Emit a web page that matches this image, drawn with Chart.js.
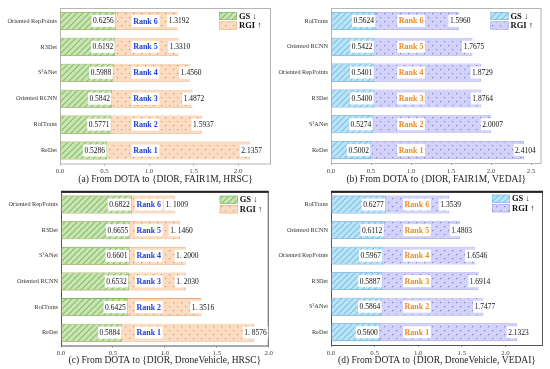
<!DOCTYPE html>
<html>
<head>
<meta charset="utf-8">
<script src="https://cdn.jsdelivr.net/npm/chart.js@4.4.1/dist/chart.umd.min.js"></script>
<style>
  html, body { margin: 0; padding: 0; background: #fff; }
  #wrap { position: relative; width: 550px; height: 369px; }
  canvas { position: absolute; }
</style>
</head>
<body>
<div id="wrap">
  <canvas id="chartA" width="275" height="185" style="left:0;top:0"></canvas>
  <canvas id="chartB" width="275" height="185" style="left:275px;top:0"></canvas>
  <canvas id="chartC" width="275" height="184" style="left:0;top:185px"></canvas>
  <canvas id="chartD" width="275" height="184" style="left:275px;top:185px"></canvas>
</div>
<script>
// data, top row of each panel first
const labelsA = ['Oriented RepPoints', 'R3Det', 'S²ANet', 'Oriented RCNN', 'RoITrans', 'ReDet'];
const gsA = [0.6256, 0.6192, 0.5988, 0.5842, 0.5771, 0.5286];
const rgiA = [1.3192, 1.3310, 1.4560, 1.4872, 1.5937, 2.1357];

const labelsB = ['RoITrans', 'Oriented RCNN', 'Oriented RepPoints', 'R3Det', 'S²ANet', 'ReDet'];
const gsB = [0.5624, 0.5422, 0.5401, 0.5400, 0.5274, 0.5002];
const rgiB = [1.5960, 1.7675, 1.8729, 1.8764, 2.0007, 2.4104];

const labelsC = ['Oriented RepPoints', 'R3Det', 'S²ANet', 'Oriented RCNN', 'RoITrans', 'ReDet'];
const gsC = [0.6822, 0.6655, 0.6601, 0.6532, 0.6425, 0.5884];
const rgiC = [1.1009, 1.1460, 1.2000, 1.2030, 1.3516, 1.8576];

const labelsD = ['RoITrans', 'Oriented RCNN', 'Oriented RepPoints', 'R3Det', 'S²ANet', 'ReDet'];
const gsD = [0.6277, 0.6112, 0.5967, 0.5887, 0.5864, 0.5600];
const rgiD = [1.3539, 1.4803, 1.6546, 1.6914, 1.7477, 2.1323];

const ranks = [6, 5, 4, 3, 2, 1];
const seriesNames = ['GS ↓', 'RGI ↑'];

const serif = "'Liberation Serif', 'Times New Roman', serif";

const greenTheme = {
  gsBase: '#cae4b5', gsLine: '#88c06a', gsBorder: '#7fb862',
  rgiBase: '#fcdcc1', rgiDot: '#e08f56', rgiBorder: '#f0ab78',
  rank: '#2141d6'
};
const blueTheme = {
  gsBase: '#bde4f6', gsLine: '#7bc5e9', gsBorder: '#72badf',
  rgiBase: '#d2d2f8', rgiDot: '#8080dc', rgiBorder: '#a0a0e8',
  rank: '#f08a26'
};

function stripes(ctx, base, line) {
  const c = document.createElement('canvas');
  c.width = 6; c.height = 6;
  const g = c.getContext('2d');
  g.fillStyle = base; g.fillRect(0, 0, 6, 6);
  g.strokeStyle = line; g.lineWidth = 1.2;
  g.beginPath();
  g.moveTo(0, 6); g.lineTo(6, 0);
  g.moveTo(-3, 3); g.lineTo(3, -3);
  g.moveTo(3, 9); g.lineTo(9, 3);
  g.stroke();
  return ctx.createPattern(c, 'repeat');
}

function dots(ctx, base, dot) {
  const c = document.createElement('canvas');
  c.width = 8; c.height = 8;
  const g = c.getContext('2d');
  g.fillStyle = base; g.fillRect(0, 0, 8, 8);
  g.fillStyle = dot;
  g.fillRect(1, 1, 1.2, 1.2);
  g.fillRect(5, 5, 1.2, 1.2);
  return ctx.createPattern(c, 'repeat');
}

function boxText(ctx, text, x, y, align, font, color) {
  ctx.font = font;
  const w = ctx.measureText(text).width;
  const pad = 1.5, h = 12;
  let left = x - w / 2 - pad;
  if (align === 'right') left = x - w - 2 * pad;
  ctx.fillStyle = '#fff';
  ctx.fillRect(left, y - h / 2, w + 2 * pad, h);
  ctx.fillStyle = color;
  ctx.textAlign = 'left';
  ctx.textBaseline = 'middle';
  ctx.fillText(text, left + pad, y + 0.5);
}

const framePlugin = {
  id: 'frame',
  beforeDatasetsDraw(chart) {
    const a = chart.chartArea, ctx = chart.ctx, th = chart.options.plugins.frame;
    ctx.save();
    ctx.strokeStyle = th.color; ctx.lineWidth = 1;
    ctx.strokeRect(a.left + 0.5, a.top + 0.5, a.right - a.left - 1, a.bottom - a.top);
    if (th.topWidth > 1) {
      ctx.lineWidth = th.topWidth; ctx.strokeStyle = th.topColor;
      ctx.beginPath(); ctx.moveTo(a.left, a.top); ctx.lineTo(a.right, a.top); ctx.stroke();
    }
    ctx.restore();
  }
};

const labelPlugin = {
  id: 'barLabels',
  afterDatasetsDraw(chart, args, opts) {
    const ctx = chart.ctx;
    const gsMeta = chart.getDatasetMeta(0), rgiMeta = chart.getDatasetMeta(1);
    const rx = chart.scales.x.getPixelForValue(opts.rankAt);
    ctx.save();
    gsMeta.data.forEach((bar, i) => {
      const gs = chart.data.datasets[0].data[i];
      const rgi = chart.data.datasets[1].data[i];
      boxText(ctx, gs.toFixed(4), bar.x - 0.5, bar.y, 'right', '7.5px ' + serif, '#111');
      boxText(ctx, 'Rank ' + opts.ranks[i], rx, bar.y, 'center', 'bold 8px ' + serif, opts.rankColor);
      let t = rgi.toFixed(4);
      if (opts.spaced) t = t.replace('.', '. ');
      boxText(ctx, t, rgiMeta.data[i].x + 1.5, bar.y, 'center', '7.5px ' + serif, '#111');
    });
    ctx.restore();
  }
};

const legendPlugin = {
  id: 'cornerLegend',
  afterDraw(chart, args, opts) {
    const ctx = chart.ctx, a = chart.chartArea;
    const ds = chart.data.datasets;
    const sx = a.right - opts.right, sy = a.top + opts.top;
    ctx.save();
    ds.forEach((d, i) => {
      const y = sy + i * 9.5;
      ctx.fillStyle = d.backgroundColor;
      ctx.fillRect(sx, y, 18, 8);
      ctx.strokeStyle = d.borderColor; ctx.lineWidth = 0.6;
      ctx.strokeRect(sx + 0.3, y + 0.3, 17.4, 7.4);
      ctx.fillStyle = '#111';
      ctx.font = 'bold 8.5px ' + serif;
      ctx.textAlign = 'left'; ctx.textBaseline = 'middle';
      ctx.fillText(d.label, sx + 20, y + 4.5);
    });
    ctx.restore();
  }
};

function makeChart(id, p) {
  const canvas = document.getElementById(id);
  const ctx = canvas.getContext('2d');
  const W = canvas.width, H = canvas.height, th = p.theme;
  const gsFill = stripes(ctx, th.gsBase, th.gsLine);
  const rgiFill = dots(ctx, th.rgiBase, th.rgiDot);
  return new Chart(canvas, {
    type: 'bar',
    data: {
      labels: p.labels,
      datasets: [
        { label: seriesNames[0], data: p.gs, backgroundColor: gsFill, borderColor: th.gsBorder,
          borderWidth: 0.8, borderSkipped: false, barPercentage: 0.7, categoryPercentage: 1 },
        { label: seriesNames[1], data: p.rgi, backgroundColor: rgiFill, borderColor: th.rgiBorder,
          borderWidth: 0.8, borderSkipped: false, barPercentage: 0.7, categoryPercentage: 1 }
      ]
    },
    options: {
      indexAxis: 'y',
      responsive: false,
      animation: false,
      devicePixelRatio: 1,
      layout: { padding: { top: p.area.top, right: W - p.area.right, left: 0, bottom: 0 } },
      plugins: {
        legend: { display: false },
        tooltip: { enabled: false },
        frame: { color: p.frameColor, topColor: p.frameTopColor, topWidth: p.frameTopWidth },
        barLabels: { ranks: ranks, rankAt: p.rankAt, rankColor: th.rank, spaced: p.spaced },
        cornerLegend: { right: p.legendRight, top: p.legendTop }
      },
      scales: {
        x: {
          min: 0, max: p.xMax,
          ticks: { stepSize: 0.5, includeBounds: false, autoSkip: false, maxRotation: 0,
                   callback: v => v.toFixed(1), font: { family: serif, size: 6.8 }, color: '#444', padding: 2 },
          grid: { display: true, drawOnChartArea: false, tickLength: 2, color: '#999' },
          border: { display: false },
          title: { display: true, text: p.caption, font: { family: serif, size: 9.5 }, color: '#222',
                   padding: { top: 1, bottom: p.captionLift } },
          afterFit: s => { s.height = H - p.area.bottom; }
        },
        y: {
          stacked: true,
          grid: { display: false, drawTicks: false, tickLength: 0 },
          border: { display: false },
          ticks: { autoSkip: false, font: { family: serif, size: 6.3 }, color: '#333', padding: 3 },
          afterFit: s => { s.width = p.area.left; }
        }
      }
    },
    plugins: [framePlugin, labelPlugin, legendPlugin]
  });
}

makeChart('chartA', {
  labels: labelsA, gs: gsA, rgi: rgiA, theme: greenTheme, xMax: 2.37, rankAt: 0.96,
  caption: '(a) From DOTA to {DIOR, FAIR1M, HRSC}', spaced: false, captionLift: 0,
  area: { left: 60, top: 8, right: 271, bottom: 163.5 },
  frameColor: '#b5b5b5', frameTopColor: '#b5b5b5', frameTopWidth: 1,
  legendRight: 52, legendTop: 4
});
makeChart('chartB', {
  labels: labelsB, gs: gsB, rgi: rgiB, theme: blueTheme, xMax: 2.63, rankAt: 1.0,
  caption: '(b) From DOTA to {DIOR, FAIR1M, VEDAI}', spaced: false, captionLift: 0,
  area: { left: 56, top: 8, right: 266.5, bottom: 163 },
  frameColor: '#b5b5b5', frameTopColor: '#b5b5b5', frameTopWidth: 1,
  legendRight: 51, legendTop: 4
});
makeChart('chartC', {
  labels: labelsC, gs: gsC, rgi: rgiC, theme: greenTheme, xMax: 2.0, rankAt: 0.845,
  caption: '(c) From DOTA to {DIOR, DroneVehicle, HRSC}', spaced: true, captionLift: 3,
  area: { left: 61, top: 4, right: 270.5, bottom: 160.5 },
  frameColor: '#555', frameTopColor: '#222', frameTopWidth: 2,
  legendRight: 49, legendTop: 4
});
makeChart('chartD', {
  labels: labelsD, gs: gsD, rgi: rgiD, theme: blueTheme, xMax: 2.43, rankAt: 0.985,
  caption: '(d) From DOTA to {DIOR, DroneVehicle, VEDAI}', spaced: false, captionLift: 3,
  area: { left: 56, top: 4, right: 268, bottom: 160 },
  frameColor: '#555', frameTopColor: '#222', frameTopWidth: 2,
  legendRight: 51, legendTop: 3
});
</script>
</body>
</html>
